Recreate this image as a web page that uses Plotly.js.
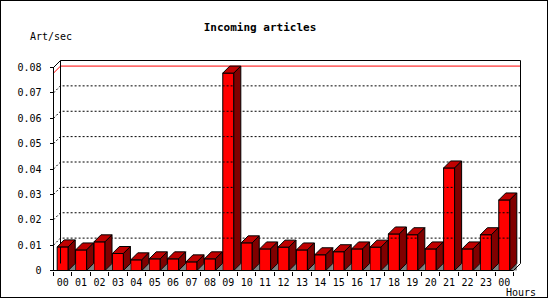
<!DOCTYPE html>
<html>
<head>
<meta charset="utf-8">
<script src="https://cdn.plot.ly/plotly-3.0.1.min.js"></script>
<style>
  html, body { margin: 0; padding: 0; background: #ffffff; }
  #chart { width: 550px; height: 300px; position: absolute; left: 0; top: 0; }
  #frame { position: absolute; left: 0; top: 0; width: 546px; height: 296px; border: 1px solid #000; pointer-events: none; }
</style>
</head>
<body>
<div id="chart"></div>
<div id="frame"></div>
<script>
// ---- data ----
const hours = ['00','01','02','03','04','05','06','07','08','09','10','11','12',
               '13','14','15','16','17','18','19','20','21','22','23','00'];
const rate = [0.0093, 0.0081, 0.0113, 0.0067, 0.0042, 0.0046, 0.0046, 0.0034, 0.0046,
              0.0778, 0.0109, 0.0085, 0.0092, 0.0081, 0.0062, 0.0074, 0.0085, 0.0092,
              0.0144, 0.0141, 0.0085, 0.0404, 0.0085, 0.0141, 0.0278];
const yTickVals = [0, 0.01, 0.02, 0.03, 0.04, 0.05, 0.06, 0.07, 0.08];
const yTickText = ['0', '0.01', '0.02', '0.03', '0.04', '0.05', '0.06', '0.07', '0.08'];
const gridVals = [0.01, 0.02, 0.03, 0.04, 0.05, 0.06, 0.07];
const titleText = 'Incoming articles';
const yUnit = 'Art/sec';
const xUnit = 'Hours';

// ---- geometry (style) ----
const W = 550, H = 300;
const S = 18.4;       // px per category
const K = 2537.5;     // px per unit of value
const plotL = 50, plotR = 523, plotT = 57, plotB = 274;
const originX = 53.5, originY = 270.5;
const depthPx = 7;
const DX = depthPx / S, DY = depthPx / K;
const HW = 0.3;      // half width of bar front face
const yMax = 0.08;
const idx = hours.map((_, i) => i);
const xStart = -0.5, xEnd = hours.length - 0.5;

const xmin = xStart - (originX - plotL) / S;
const xmax = xmin + (plotR - plotL) / S;
const ymin = -(plotB - originY) / K;
const ymax = ymin + (plotB - plotT) / K;

const FONT = '"DejaVu Sans Mono", "Liberation Mono", monospace';

function px2paperX(px) { return (px - plotL) / (plotR - plotL); }
function px2paperY(py) { return (plotB - py) / (plotB - plotT); }

const traces = [];
const base = { type: 'scatter', mode: 'lines', hoverinfo: 'skip', showlegend: false };

// floor shadow triangles
{
  const xs = [], ys = [];
  idx.forEach(i => {
    const r = i + HW;
    xs.push(r, r + DX, r + DX, r, null);
    ys.push(0, DY, 0, 0, null);
  });
  traces.push(Object.assign({}, base, { x: xs, y: ys, fill: 'toself', fillcolor: '#808080',
    line: { width: 0, color: '#808080' } }));
}

// dotted grid lines on back wall + left wall
{
  const xs = [], ys = [];
  gridVals.forEach(v => {
    xs.push(xStart, xStart + DX, xEnd + DX, null);
    ys.push(v, v + DY, v + DY, null);
  });
  traces.push(Object.assign({}, base, { x: xs, y: ys,
    line: { color: '#000000', width: 1, dash: '2px,2px' } }));
}

// max line (red)
{
  const m = Math.max.apply(null, rate);
  traces.push(Object.assign({}, base, {
    x: [xStart, xStart + DX, xEnd + DX],
    y: [m, m + DY, m + DY],
    line: { color: '#ff0000', width: 1 } }));
}

// frame: front axes and back wall outline
{
  const xs = [xStart, xEnd, xEnd + DX, xEnd + DX, xStart + DX, xStart + DX, null,
              xStart, xStart, xStart + DX];
  const ys = [0, 0, DY, yMax + DY, yMax + DY, DY, null,
              0, yMax, yMax + DY];
  traces.push(Object.assign({}, base, { x: xs, y: ys, line: { color: '#000000', width: 1 } }));
}

// front faces
traces.push({
  type: 'bar', x: idx, y: rate, width: 2 * HW, hoverinfo: 'skip', showlegend: false,
  marker: { color: '#ff0000', line: { color: '#000000', width: 1 } }
});

// top faces
{
  const xs = [], ys = [];
  idx.forEach(i => {
    const v = rate[i];
    xs.push(i - HW, i + HW, i + HW + DX, i - HW + DX, i - HW, null);
    ys.push(v, v, v + DY, v + DY, v, null);
  });
  traces.push(Object.assign({}, base, { x: xs, y: ys, fill: 'toself', fillcolor: '#c00000',
    line: { color: '#000000', width: 1 } }));
}
// side faces
{
  const xs = [], ys = [];
  idx.forEach(i => {
    const v = rate[i];
    xs.push(i + HW, i + HW + DX, i + HW + DX, i + HW, i + HW, null);
    ys.push(0, DY, v + DY, v, 0, null);
  });
  traces.push(Object.assign({}, base, { x: xs, y: ys, fill: 'toself', fillcolor: '#800000',
    line: { color: '#000000', width: 1 } }));
}

const layout = {
  width: W, height: H,
  margin: { l: plotL, r: W - plotR, t: plotT, b: H - plotB, pad: 0 },
  paper_bgcolor: '#ffffff', plot_bgcolor: '#ffffff',
  showlegend: false,
  title: { text: '<b>' + titleText + '</b>', font: { family: FONT, size: 11, color: '#000' },
           xref: 'container', yref: 'container', x: 260 / W, xanchor: 'center',
           y: 1 - 27 / H, yanchor: 'middle' },
  xaxis: {
    range: [xmin, xmax], anchor: 'free', position: (plotB - originY) / (plotB - plotT),
    tickmode: 'array', tickvals: idx, ticktext: hours, ticks: '',
    showgrid: false, zeroline: false, showline: false,
    tickfont: { family: FONT, size: 10, color: '#000' },
    ticklabelstandoff: 4,
    minor: { tickmode: 'array', tickvals: idx.map(i => i - 0.5).concat([xEnd]), ticks: 'outside',
             ticklen: 4, tickwidth: 1, tickcolor: '#000', showgrid: false }
  },
  yaxis: {
    range: [ymin, ymax], anchor: 'free', position: (originX - plotL) / (plotR - plotL),
    tickmode: 'array', tickvals: yTickVals, ticktext: yTickText,
    ticks: 'outside', ticklen: 4, tickwidth: 1, tickcolor: '#000',
    showgrid: false, zeroline: false, showline: false,
    tickfont: { family: FONT, size: 10, color: '#000' },
    ticklabelstandoff: 6
  },
  annotations: [
    { text: yUnit, xref: 'paper', yref: 'paper', x: px2paperX(28), y: px2paperY(37),
      xanchor: 'left', yanchor: 'middle', showarrow: false,
      font: { family: FONT, size: 10, color: '#000' } },
    { text: xUnit, xref: 'paper', yref: 'paper', x: px2paperX(504), y: px2paperY(292),
      xanchor: 'left', yanchor: 'middle', showarrow: false,
      font: { family: FONT, size: 10, color: '#000' } }
  ]
};

Plotly.newPlot('chart', traces, layout, { displayModeBar: false, staticPlot: true });
</script>
</body>
</html>
